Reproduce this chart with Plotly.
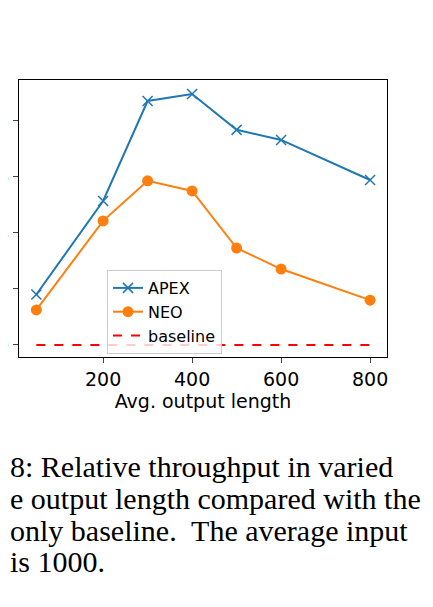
import plotly.graph_objects as go

lengths = [50, 200, 300, 400, 500, 600, 800]
apex = [1.18, 1.514, 1.871, 1.896, 1.768, 1.732, 1.589]
neo = [1.125, 1.443, 1.586, 1.55, 1.346, 1.271, 1.16]
baseline = [1.0] * len(lengths)
yticks = [1.0, 1.2, 1.4, 1.6, 1.8]
xticks = [200, 400, 600, 800]
caption = ["8: Relative throughput in varied",
           "e output length compared with the",
           "only baseline.  The average input",
           "is 1000."]

fig = go.Figure()
fig.add_trace(go.Scatter(x=lengths, y=apex, name="APEX", mode="lines+markers",
                         line=dict(color="#1f77b4", width=2),
                         marker=dict(symbol="x-thin", size=10, line=dict(width=1.5, color="#1f77b4"))))
fig.add_trace(go.Scatter(x=lengths, y=neo, name="NEO", mode="lines+markers",
                         line=dict(color="#ff7f0e", width=2),
                         marker=dict(symbol="circle", size=11, color="#ff7f0e")))
fig.add_trace(go.Scatter(x=lengths, y=baseline, name="baseline", mode="lines",
                         line=dict(color="red", width=2, dash="dash")))

OFF = 8
W, H = 433, 607
L, R, T, B = 19 - OFF, 387 - OFF, 80 - OFF, 357 - OFF
fig.update_layout(
    width=W, height=H, autosize=False,
    margin=dict(l=L, r=W - R, t=T, b=H - B, autoexpand=False),
    paper_bgcolor="white", plot_bgcolor="white",
    font=dict(family="DejaVu Sans", color="black"),
    xaxis=dict(range=[11, 838], tickvals=xticks, ticks="outside", ticklen=5,
               showgrid=False, zeroline=False, showline=True, mirror=True,
               linecolor="black", linewidth=1, tickfont=dict(size=19),
               title=dict(text="Avg. output length", font=dict(size=19), standoff=2),
               automargin=False),
    yaxis=dict(range=[0.957, 1.946], tickvals=yticks, tickformat=".1f", ticks="outside",
               ticklen=5, showgrid=False, zeroline=False, showline=True, mirror=True,
               linecolor="black", linewidth=1, tickfont=dict(size=19), automargin=False),
    legend=dict(x=(107 - OFF - L) / (R - L), y=(B - (270 - OFF)) / (B - T),
                xanchor="left", yanchor="top",
                bordercolor="#cccccc", borderwidth=1, bgcolor="rgba(255,255,255,0.8)",
                font=dict(size=16)),
)
for i, line in enumerate(caption):
    fig.add_annotation(text=line, xref="paper", yref="paper", showarrow=False,
                       x=(8 - OFF - L) / (R - L), xanchor="left",
                       y=(B - (467 - OFF + i * 31.5)) / (B - T), yanchor="middle",
                       font=dict(family="Liberation Serif", size=30, color="black"))
fig.write_html("out.html")
